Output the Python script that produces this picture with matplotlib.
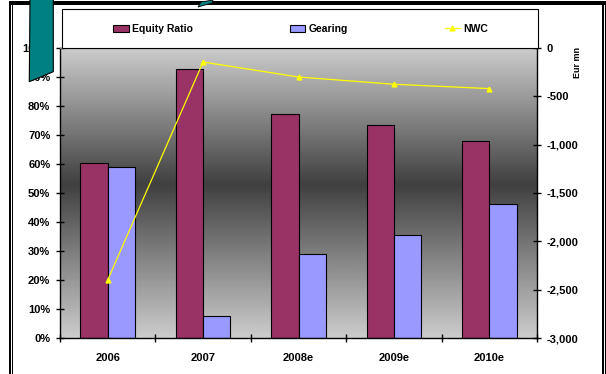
import numpy as np
import matplotlib.pyplot as plt
from matplotlib.patches import Patch, Polygon, Rectangle
from matplotlib.lines import Line2D

plt.rcParams['font.family'] = ['Liberation Sans', 'DejaVu Sans']
plt.rcParams['font.weight'] = 'bold'

years = ['2006', '2007', '2008e', '2009e', '2010e']
equity_ratio = [60.5, 92.8, 77.2, 73.3, 68.0]   # %
gearing = [59.0, 7.6, 29.0, 35.5, 46.2]         # %
nwc = [-2400, -145, -300, -375, -420]           # Eur mn

W, H = 606, 374
fig = plt.figure(figsize=(W / 100, H / 100), dpi=100)


def fx(px):
    return px / W


def fy(py):
    return 1 - py / H


# plot area in pixel terms
x0, x1, y0, y1 = 60, 537, 48, 338
ax = fig.add_axes([fx(x0), fy(y1), fx(x1 - x0), (y1 - y0) / H])

# grey gradient background, dark band around the middle
grad_y = np.linspace(0, 1, 300)
shade = np.interp(grad_y, [0, 0.53, 1.0], [0.80, 0.25, 0.80])
ax.imshow(shade[:, None], extent=[-0.5, 4.5, 0, 1], origin='lower',
          aspect='auto', cmap='gray', vmin=0, vmax=1, zorder=0)

x = np.arange(len(years))
w = 1 / 3.5
ax.bar(x - w / 2, np.array(equity_ratio) / 100, w, color='#993366',
       edgecolor='black', linewidth=0.8, zorder=2)
ax.bar(x + w / 2, np.array(gearing) / 100, w, color='#9999FF',
       edgecolor='black', linewidth=0.8, zorder=2)

ax.set_xlim(-0.5, 4.5)
ax.set_ylim(0, 1)
ax.set_yticks(np.arange(0, 1.01, 0.1))
ax.set_yticklabels([f'{int(round(v * 100))}%' for v in np.arange(0, 1.01, 0.1)])
ax.set_xticks(x)
ax.set_xticklabels(years)
ax.set_xticks(np.arange(-0.5, 4.6, 1), minor=True)
ax.tick_params(axis='x', which='major', length=0, pad=11, labelsize=8)
ax.tick_params(axis='x', which='minor', direction='inout', length=6, width=1)
ax.tick_params(axis='y', direction='inout', length=6, width=1, pad=4,
               labelsize=8)
for side in ['left', 'bottom']:
    ax.spines[side].set_linewidth(1)
ax.spines['top'].set_color('#808080')
ax.spines['right'].set_visible(False)

ax2 = ax.twinx()
ax2.plot(x, nwc, color='#FFFF00', linewidth=0.9, marker='^', markersize=3.5,
         zorder=3)
ax2.set_ylim(-3000, 0)
ax2.set_yticks(np.arange(-3000, 1, 500))
ax2.set_yticklabels([f'{v:,}' for v in np.arange(-3000, 1, 500)])
ax2.tick_params(axis='y', direction='inout', length=6, width=1, pad=4,
                labelsize=8)
ax2.spines['right'].set_linewidth(1)
for side in ['left', 'top', 'bottom']:
    ax2.spines[side].set_visible(False)
fig.text(fx(578), fy(62), 'Eur mn', rotation=90, ha='center', va='center',
         fontsize=6.5)

# legend strip above the plot area
fig.patches.append(Rectangle((fx(62), fy(48)), fx(538 - 62), (48 - 9) / H,
                             transform=fig.transFigure, facecolor='white',
                             edgecolor='black', linewidth=0.8, zorder=1))
handles = [Patch(facecolor='#993366', edgecolor='black', linewidth=0.8),
           Patch(facecolor='#9999FF', edgecolor='black', linewidth=0.8),
           Line2D([], [], color='#FFFF00', marker='^', markersize=3.5,
                  linewidth=0.9)]
fig.legend(handles, ['Equity Ratio', 'Gearing', 'NWC'], ncol=3,
           loc='center left', bbox_to_anchor=(fx(113), fy(29)), frameon=False,
           fontsize=7.5, handlelength=1.5, handletextpad=0.3,
           columnspacing=9.3, borderpad=0, borderaxespad=0)

# slide frame and decoration
frame = fig.add_axes([0, 0, 1, 1], zorder=10)
frame.set_xlim(0, W)
frame.set_ylim(H, 0)
frame.axis('off')
frame.add_patch(Rectangle((9, 1), W - 9, 4, color='black', linewidth=0))
frame.add_patch(Rectangle((9, 1), 2.2, H, color='black', linewidth=0))
frame.add_patch(Rectangle((12, 5), 1.4, H, color='black', linewidth=0))
frame.add_patch(Rectangle((602, 1), 1.6, H, color='black', linewidth=0))
frame.add_patch(Rectangle((604.6, 1), 1, H, color='black', linewidth=0))
frame.add_patch(Polygon([(30, -2), (53.3, -2), (53.3, 71.7), (29.3, 81.7)],
                        closed=True, facecolor='#008080', edgecolor='black',
                        linewidth=0.8))
frame.add_patch(Polygon([(198, 7), (201, 2), (213, 0), (212, 3)],
                        closed=True, facecolor='#008080', edgecolor='black',
                        linewidth=0.6))

fig.savefig('out.png', dpi=100)
